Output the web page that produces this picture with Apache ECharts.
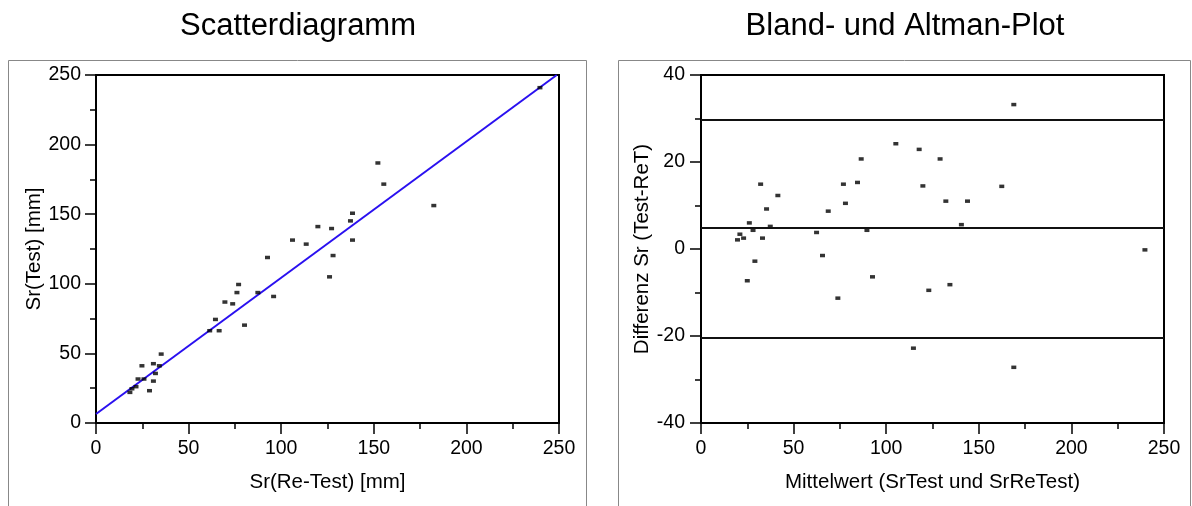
<!DOCTYPE html>
<html>
<head>
<meta charset="utf-8">
<script src="https://cdn.jsdelivr.net/npm/echarts@6/dist/echarts.min.js"></script>
<style>
  html, body { margin: 0; padding: 0; background: #fff; }
  #main { width: 1192px; height: 506px; }
</style>
</head>
<body>
<div id="main"></div>
<script>
// Scatterdiagramm: Re-Test (x) gegen Test (y)
var srReTest = [18.3, 19.4, 21.6, 22.7, 25.9, 24.8, 28.9, 31.0, 31.0, 32.1, 34.2, 35.2,
    61.4, 64.5, 66.5, 69.6, 73.8, 76.1, 77.0, 80.2, 87.4, 92.6, 95.9,
    106.1, 113.5, 119.8, 126.1, 127.2, 128.0, 137.4, 138.5, 138.5, 152.2, 155.4, 182.4, 239.7];
var srTest = [22.0, 24.6, 26.1, 31.6, 31.6, 41.1, 23.2, 30.1, 42.6, 35.6, 41.1, 49.5,
    66.3, 74.4, 66.3, 86.9, 85.6, 93.7, 99.5, 70.3, 93.7, 118.9, 90.9,
    131.4, 128.5, 141.1, 105.0, 139.7, 120.3, 145.2, 150.7, 131.4, 186.8, 171.6, 156.2, 240.9];
// Regressionsgerade (Endpunkte)
var regLine = [[0, 6.5], [248.8, 250]];

// Bland-Altman: Mittelwert (x) gegen Differenz (y)
var baMittel = [19.7, 21.0, 23.0, 25.0, 26.1, 28.1, 29.1, 32.2, 33.2, 35.4, 37.4, 41.5,
    62.4, 65.6, 68.7, 73.9, 76.9, 78.0, 84.5, 86.5, 89.6, 92.6,
    105.2, 114.7, 117.8, 119.8, 123.0, 129.1, 132.2, 134.4, 140.6, 143.9, 162.4, 168.9, 168.9, 239.7];
var baDiff = [2.1, 3.4, 2.5, -7.3, 6.0, 4.3, -2.8, 14.9, 2.5, 9.2, 5.2, 12.3,
    3.8, -1.5, 8.7, -11.3, 14.9, 10.5, 15.3, 20.7, 4.3, -6.4,
    24.2, -22.8, 22.9, 14.5, -9.5, 20.7, 11.0, -8.2, 5.6, 11.0, 14.4, 33.2, -27.2, -0.2];
// Mittelwert und Grenzen (+/- 1.96 SD)
var baLinien = [29.8, 4.9, -20.3];

var xTicks = [0, 250, 50];
var yTicksLeft = [0, 250, 50];
var yTicksRight = [-40, 40, 20];

var schrift = 'Liberation Sans';

function makePairs(xs, ys) {
    var out = [];
    for (var i = 0; i < xs.length; i++) {
        out.push([xs[i], ys[i]]);
    }
    return out;
}

function achse(idx, range, name, nameGap, labelMargin) {
    return {
        gridIndex: idx,
        type: 'value',
        min: range[0],
        max: range[1],
        interval: range[2],
        name: name,
        nameLocation: 'middle',
        nameGap: nameGap,
        nameTextStyle: { color: '#000', fontSize: 20.5, fontFamily: schrift },
        axisLine: { show: true, onZero: false, lineStyle: { color: '#000', width: 2 } },
        axisTick: { show: true, inside: false, length: 11, lineStyle: { color: '#000', width: 1.5 } },
        minorTick: { show: true, splitNumber: 2, length: 6, lineStyle: { color: '#000', width: 1.5 } },
        splitLine: { show: false },
        minorSplitLine: { show: false },
        axisLabel: { color: '#000', fontSize: 19.5, fontFamily: schrift, margin: labelMargin }
    };
}

var dom = document.getElementById('main');
var myChart = echarts.init(dom);

var option = {
    animation: false,
    backgroundColor: '#fff',
    title: [
        {
            text: 'Scatterdiagramm',
            left: 293, top: 6,
            textAlign: 'center',
            textStyle: { color: '#000', fontSize: 31, fontWeight: 'normal', fontFamily: schrift }
        },
        {
            text: 'Bland- und Altman-Plot',
            left: 900, top: 6,
            textAlign: 'center',
            textStyle: { color: '#000', fontSize: 31, fontWeight: 'normal', fontFamily: schrift }
        }
    ],
    graphic: [
        { type: 'rect', shape: { x: 8.5, y: 60.5, width: 578, height: 470 },
          style: { fill: 'none', stroke: '#888', lineWidth: 1 }, z: -1 },
        { type: 'rect', shape: { x: 618.5, y: 60.5, width: 572, height: 470 },
          style: { fill: 'none', stroke: '#888', lineWidth: 1 }, z: -1 }
    ],
    grid: [
        { left: 96, top: 75, width: 463, height: 348, show: true, borderColor: '#000', borderWidth: 2 },
        { left: 701, top: 75, width: 463, height: 348, show: true, borderColor: '#000', borderWidth: 2 }
    ],
    xAxis: [
        achse(0, xTicks, 'Sr(Re-Test) [mm]', 49, 16),
        achse(1, xTicks, 'Mittelwert (SrTest und SrReTest)', 49, 16)
    ],
    yAxis: [
        achse(0, yTicksLeft, 'Sr(Test) [mm]', 51, 15),
        achse(1, yTicksRight, 'Differenz Sr (Test-ReT)', 48, 16)
    ],
    series: [
        {
            type: 'line',
            xAxisIndex: 0, yAxisIndex: 0,
            data: regLine,
            symbol: 'none',
            lineStyle: { color: '#2a10f0', width: 2 },
            z: 2
        },
        {
            type: 'scatter',
            xAxisIndex: 0, yAxisIndex: 0,
            data: makePairs(srReTest, srTest),
            symbol: 'rect',
            symbolSize: [5, 3.5],
            itemStyle: { color: '#000' },
            z: 3
        },
        {
            type: 'scatter',
            xAxisIndex: 1, yAxisIndex: 1,
            data: makePairs(baMittel, baDiff),
            symbol: 'rect',
            symbolSize: [5, 3.5],
            itemStyle: { color: '#000' },
            z: 3,
            markLine: {
                silent: true,
                symbol: 'none',
                label: { show: false },
                lineStyle: { color: '#111', width: 2, type: 'solid' },
                data: baLinien.map(function (v) { return { yAxis: v }; })
            }
        }
    ]
};
myChart.setOption(option);
</script>
</body>
</html>
